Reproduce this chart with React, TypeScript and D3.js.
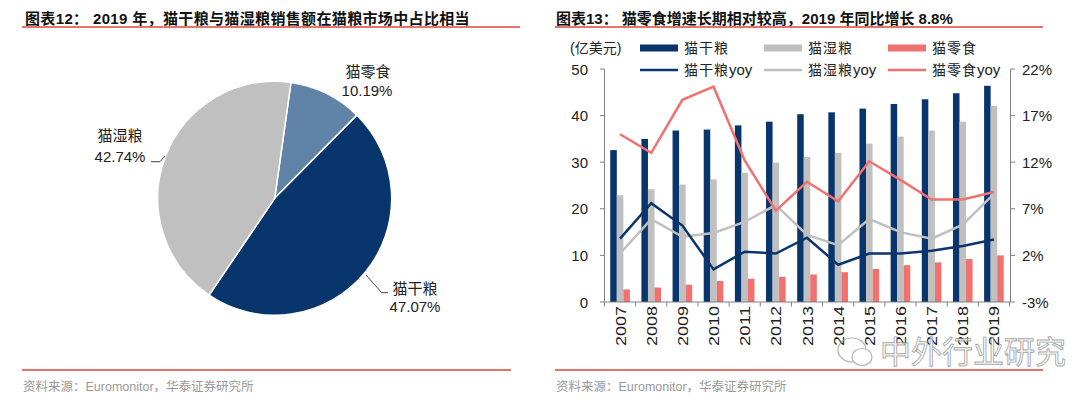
import React from 'react';
import * as d3 from 'd3';

const years = ['2007','2008','2009','2010','2011','2012','2013','2014','2015','2016','2017','2018','2019'];
const dryFood = [32.6,35.0,36.8,37.0,37.9,38.7,40.3,40.7,41.5,42.5,43.5,44.8,46.4];
const wetFood = [22.9,24.2,25.2,26.3,27.7,29.9,31.1,32.0,34.0,35.5,36.8,38.7,42.1];
const snackFood = [2.7,3.1,3.7,4.5,5.0,5.4,5.9,6.4,7.1,7.9,8.5,9.2,10.0];
const dryYoy = [3.8,7.6,5.2,0.5,2.4,2.2,3.9,1.0,2.2,2.2,2.5,3.0,3.7];
const wetYoy = [2.2,5.9,4.0,4.4,5.6,7.4,4.2,3.1,5.9,4.5,3.8,5.3,8.6];
const snackYoy = [15.0,13.0,18.7,20.1,12.2,6.8,9.9,7.8,12.1,10.1,8.0,8.0,8.8];
const leftTicks = [0,10,20,30,40,50];
const rightTicks = [-3,2,7,12,17,22];

const pieLabels = ['猫零食','猫干粮','猫湿粮'];
const pieValues = [10.19,47.07,42.74];

const NAVY = '#08356C';
const GRAY = '#C0C0C0';
const RED = '#F0716E';
const STEEL = '#6283A8';
const RULE = '#E0443A';
const FONT = '"Liberation Sans", Arial, "Noto Sans CJK SC", sans-serif';

export default function App() {
  const x = d3.scaleBand<string>().domain(years).range([604.5, 1009.5]).padding(0);
  const bw = x.bandwidth();
  const inner = d3.scaleBand<string>().domain(['dry','wet','snack']).range([bw*0.185, bw*0.815]).padding(0);
  const yL = d3.scaleLinear().domain([0,50]).range([302,69]);
  const yR = d3.scaleLinear().domain([-3,22]).range([302,69]);
  const cx = (i: number) => (x(years[i]) as number) + bw/2;
  const line = (arr: number[]) => d3.line<number>().x((_, i) => cx(i)).y(d => yR(d))(arr) as string;

  const pc = [274.7, 198.3];
  const R = 117;
  const arcs = d3.pie<number>().sort(null).startAngle(8*Math.PI/180).endAngle(8*Math.PI/180 + 2*Math.PI)(pieValues);
  const arcGen = d3.arc<d3.PieArcDatum<number>>().innerRadius(0).outerRadius(R);
  const pieColors = [STEEL, NAVY, GRAY];

  const series = [
    { key: 'dry', data: dryFood, color: NAVY },
    { key: 'wet', data: wetFood, color: GRAY },
    { key: 'snack', data: snackFood, color: RED },
  ];

  return (
    <div style={{ position: 'absolute', left: 0, top: 0 }}>
      <svg width={1080} height={402} style={{ display: 'block', fontFamily: FONT }}>
        <rect x={0} y={0} width={1080} height={402} fill="#fff" />
        <text x={25} y={24} fontSize={15} letterSpacing={0.35} fontWeight="bold" fill="#111">图表12：  2019 年，猫干粮与猫湿粮销售额在猫粮市场中占比相当</text>
        <line x1={22} x2={520} y1={27} y2={27} stroke={RULE} strokeWidth={1.5} />
        <text x={556} y={24} fontSize={15} fontWeight="bold" fill="#111">图表13：  猫零食增速长期相对较高，2019 年同比增长 8.8%</text>
        <line x1={555} x2={1043} y1={27} y2={27} stroke={RULE} strokeWidth={1.5} />

        <g transform={`translate(${pc[0]},${pc[1]})`}>
          {arcs.map((a, i) => (
            <path key={i} d={arcGen(a) as string} fill={pieColors[i]} stroke="#fff" strokeWidth={1.5} />
          ))}
        </g>
        <text x={368} y={77} fontSize={15} textAnchor="middle" fill="#222">{pieLabels[0]}</text>
        <text x={367} y={96} fontSize={15} textAnchor="middle" fill="#222">{pieValues[0].toFixed(2)}%</text>
        <text x={120} y={141} fontSize={15} textAnchor="middle" fill="#222">{pieLabels[2]}</text>
        <text x={120} y={162} fontSize={15} textAnchor="middle" fill="#222">{pieValues[2].toFixed(2)}%</text>
        <polyline points="151,161.7 160,161.7 165,156" fill="none" stroke="#404040" strokeWidth={1} />
        <text x={415} y={294} fontSize={15} textAnchor="middle" fill="#222">{pieLabels[1]}</text>
        <text x={415} y={312} fontSize={15} textAnchor="middle" fill="#222">{pieValues[1].toFixed(2)}%</text>
        <polyline points="366,275 381.7,292.7 388,292.7" fill="none" stroke="#404040" strokeWidth={1} />

        {series.map(s => s.data.map((v, i) => (
          <rect key={s.key + i} x={(x(years[i]) as number) + (inner(s.key) as number)} y={yL(v)}
            width={inner.bandwidth()} height={302 - yL(v)} fill={s.color} />
        )))}

        <path d={line(wetYoy)} fill="none" stroke={GRAY} strokeWidth={2.5} />
        <path d={line(dryYoy)} fill="none" stroke={NAVY} strokeWidth={2.5} />
        <path d={line(snackYoy)} fill="none" stroke={RED} strokeWidth={2.5} />

        <line x1={604.5} x2={604.5} y1={69} y2={302} stroke="#808080" strokeWidth={1} />
        <line x1={1010.5} x2={1010.5} y1={69} y2={302} stroke="#808080" strokeWidth={1} />
        <line x1={604.5} x2={1010.5} y1={302} y2={302} stroke="#808080" strokeWidth={1} />
        {leftTicks.map(t => (
          <g key={'l' + t}>
            <line x1={600} x2={604.5} y1={yL(t)} y2={yL(t)} stroke="#808080" />
            <text x={588} y={yL(t) + 5.5} fontSize={15} textAnchor="end" fill="#222">{t}</text>
          </g>
        ))}
        {rightTicks.map(t => (
          <g key={'r' + t}>
            <line x1={1010.5} x2={1015} y1={yR(t)} y2={yR(t)} stroke="#808080" />
            <text x={1022} y={yR(t) + 5.5} fontSize={15} textAnchor="start" fill="#222">{t}%</text>
          </g>
        ))}
        {years.map((yr, i) => (
          <g key={yr}>
            <line x1={x(yr) as number} x2={x(yr) as number} y1={302} y2={306.5} stroke="#808080" />
            <text transform={`translate(${cx(i) + 5.5},306) rotate(-90)`} fontSize={15} textAnchor="end"
              textLength={40} lengthAdjust="spacingAndGlyphs" fill="#222">{yr}</text>
          </g>
        ))}
        <line x1={1009.5} x2={1009.5} y1={302} y2={306.5} stroke="#808080" />

        <text x={570} y={53} fontSize={14} fill="#222">(亿美元)</text>
        {[
          { label: '猫干粮', color: NAVY, x: 640 },
          { label: '猫湿粮', color: GRAY, x: 764 },
          { label: '猫零食', color: RED, x: 888 },
        ].map(l => (
          <g key={l.label}>
            <rect x={l.x} y={44.5} width={38} height={7} fill={l.color} />
            <text x={l.x + 44} y={53} fontSize={14} letterSpacing={1} fill="#222">{l.label}</text>
            <line x1={l.x} x2={l.x + 38} y1={70} y2={70} stroke={l.color} strokeWidth={2.5} />
            <text x={l.x + 44} y={75} fontSize={14} letterSpacing={1} fill="#222">{l.label}<tspan fontSize={15} letterSpacing={0}>yoy</tspan></text>
          </g>
        ))}

        <g opacity={0.75}>
          <ellipse cx={852} cy={350} rx={14} ry={12} fill="none" stroke="#9a9a9a" strokeWidth={1.2} />
          <ellipse cx={862} cy={357} rx={10} ry={8.5} fill="#fff" stroke="#9a9a9a" strokeWidth={1.2} />
          <text x={880} y={363} fontSize={31} fill="#fff" stroke="#8a8a8a" strokeWidth={0.9} fontFamily='"Noto Sans CJK SC", sans-serif'>中外行业研究</text>
        </g>

        <line x1={22} x2={511} y1={370} y2={370} stroke={RULE} strokeWidth={1.5} />
        <line x1={555} x2={1043} y1={370} y2={370} stroke={RULE} strokeWidth={1.5} />
        <text x={23} y={391} fontSize={12.5} fill="#999">资料来源：Euromonitor，华泰证券研究所</text>
        <text x={556} y={391} fontSize={12.5} fill="#999">资料来源：Euromonitor，华泰证券研究所</text>
      </svg>
    </div>
  );
}
